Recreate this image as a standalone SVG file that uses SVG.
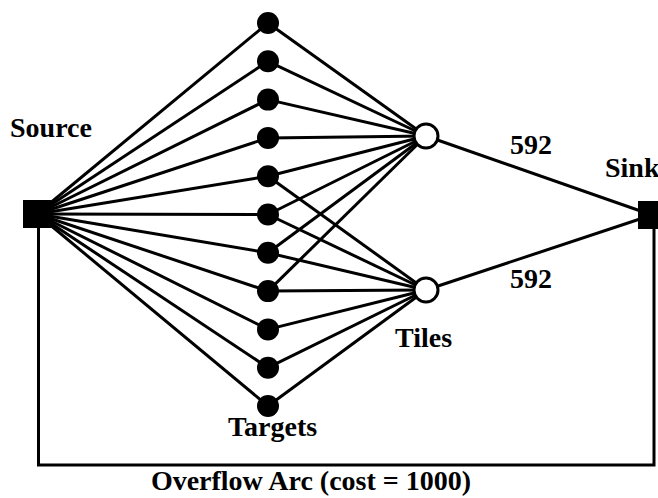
<svg xmlns="http://www.w3.org/2000/svg" width="658" height="498" viewBox="0 0 658 498">
  <style>
    .edge { stroke: #000; stroke-width: 3; fill: none; }
    .target { fill: #000; }
    .tile { fill: #fff; stroke: #000; stroke-width: 3; }
    .term { fill: #000; }
    .label { font-family: "Liberation Serif", "Times New Roman", serif; font-weight: bold; font-size: 28px; fill: #000; }
  </style>

  <g id="connectors">
    <!-- source to targets -->
    <line class="edge" x1="37" y1="214" x2="268" y2="23"/>
    <line class="edge" x1="37" y1="214" x2="268" y2="61.3"/>
    <line class="edge" x1="37" y1="214" x2="268" y2="99.6"/>
    <line class="edge" x1="37" y1="214" x2="268" y2="137.9"/>
    <line class="edge" x1="37" y1="214" x2="268" y2="176.2"/>
    <line class="edge" x1="37" y1="214" x2="268" y2="214.5"/>
    <line class="edge" x1="37" y1="214" x2="268" y2="252.8"/>
    <line class="edge" x1="37" y1="214" x2="268" y2="291.1"/>
    <line class="edge" x1="37" y1="214" x2="268" y2="329.4"/>
    <line class="edge" x1="37" y1="214" x2="268" y2="367.7"/>
    <line class="edge" x1="37" y1="214" x2="268" y2="406"/>
    <!-- targets to upper tile -->
    <line class="edge" x1="268" y1="23" x2="426" y2="136"/>
    <line class="edge" x1="268" y1="61.3" x2="426" y2="136"/>
    <line class="edge" x1="268" y1="99.6" x2="426" y2="136"/>
    <line class="edge" x1="268" y1="137.9" x2="426" y2="136"/>
    <line class="edge" x1="268" y1="176.2" x2="426" y2="136"/>
    <line class="edge" x1="268" y1="214.5" x2="426" y2="136"/>
    <line class="edge" x1="268" y1="252.8" x2="426" y2="136"/>
    <line class="edge" x1="268" y1="291.1" x2="426" y2="136"/>
    <!-- targets to lower tile -->
    <line class="edge" x1="268" y1="176.2" x2="426" y2="290"/>
    <line class="edge" x1="268" y1="214.5" x2="426" y2="290"/>
    <line class="edge" x1="268" y1="252.8" x2="426" y2="290"/>
    <line class="edge" x1="268" y1="291.1" x2="426" y2="290"/>
    <line class="edge" x1="268" y1="329.4" x2="426" y2="290"/>
    <line class="edge" x1="268" y1="367.7" x2="426" y2="290"/>
    <line class="edge" x1="268" y1="406" x2="426" y2="290"/>
    <!-- tiles to sink -->
    <line class="edge" x1="426" y1="136" x2="652" y2="215"/>
    <line class="edge" x1="426" y1="290" x2="652" y2="215"/>
    <!-- overflow arc -->
    <polyline class="edge" points="38.5,214 38.5,465 654,465 654,215"/>
  </g>

  <g id="source"><rect class="term" x="23" y="200" width="28" height="28"/></g>
  <g id="sink"><rect class="term" x="638" y="201" width="28" height="28"/></g>

  <g id="targets">
    <circle class="target" cx="268" cy="23" r="11"/>
    <circle class="target" cx="268" cy="61.3" r="11"/>
    <circle class="target" cx="268" cy="99.6" r="11"/>
    <circle class="target" cx="268" cy="137.9" r="11"/>
    <circle class="target" cx="268" cy="176.2" r="11"/>
    <circle class="target" cx="268" cy="214.5" r="11"/>
    <circle class="target" cx="268" cy="252.8" r="11"/>
    <circle class="target" cx="268" cy="291.1" r="11"/>
    <circle class="target" cx="268" cy="329.4" r="11"/>
    <circle class="target" cx="268" cy="367.7" r="11"/>
    <circle class="target" cx="268" cy="406" r="11"/>
  </g>

  <g id="tile-upper"><circle class="tile" cx="426" cy="136" r="12"/></g>
  <g id="tile-lower"><circle class="tile" cx="426" cy="290" r="12"/></g>

  <g id="labels">
    <text class="label" x="10" y="137">Source</text>
    <text class="label" x="605" y="177">Sink</text>
    <text class="label" x="510" y="154">592</text>
    <text class="label" x="510" y="288">592</text>
    <text class="label" x="395" y="347">Tiles</text>
    <text class="label" x="228" y="436">Targets</text>
    <text class="label" x="311" y="490" text-anchor="middle">Overflow Arc (cost = 1000)</text>
  </g>
</svg>
